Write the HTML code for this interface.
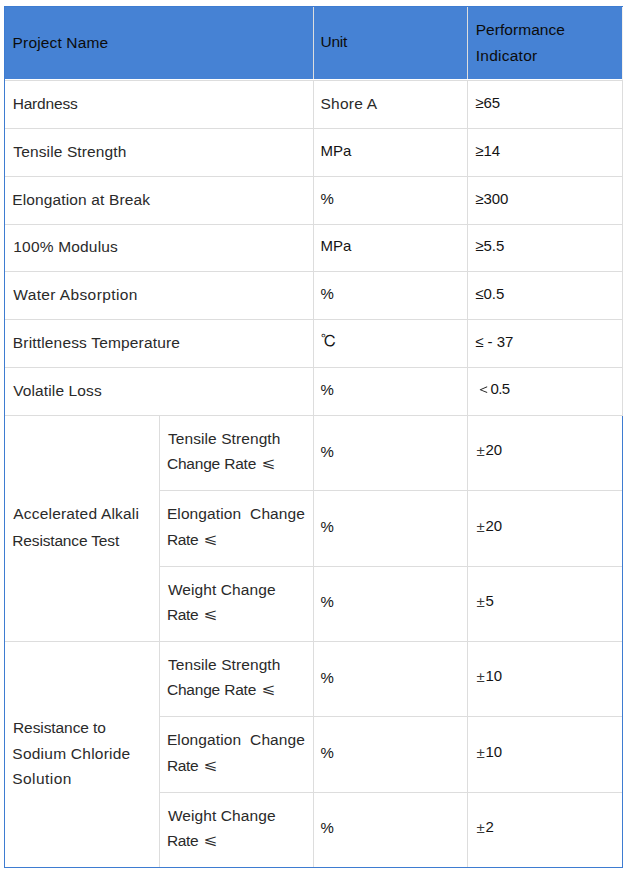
<!DOCTYPE html><html><head><meta charset="utf-8"><title>Table</title><style>
html,body{margin:0;padding:0;background:#fff}body{width:626px;height:872px;overflow:hidden;position:relative}
.l{position:absolute}

.t{position:absolute;white-space:nowrap;font-family:"Liberation Sans",sans-serif;font-size:15px;line-height:20px;color:#2a2a2a}
.t.c{font-family:"Liberation Sans","IPAGothic",sans-serif;font-size:16px}
.m{font-size:15.5px}
.t.le{font-family:"Liberation Sans","DejaVu Math TeX Gyre","DejaVu Sans",sans-serif;transform:scale(1.1,0.9);transform-origin:left bottom}
.hd{color:#0c0c0c}
.a{color:#141414}
.t.cj{font-family:"Liberation Sans","WenQuanYi Zen Hei",sans-serif}
.pm{display:inline-block;margin-right:0.7px;position:relative;top:1px;color:#3a3a3a}

</style></head><body>
<div class="l" style="left:4px;top:6px;width:618px;height:73px;background:#4682d4"></div>
<div class="l" style="left:5px;top:80px;width:618px;height:1px;background:#dddddd"></div>
<div class="l" style="left:5px;top:128px;width:618px;height:1px;background:#dddddd"></div>
<div class="l" style="left:5px;top:176px;width:618px;height:1px;background:#dddddd"></div>
<div class="l" style="left:5px;top:224px;width:618px;height:1px;background:#dddddd"></div>
<div class="l" style="left:5px;top:271px;width:618px;height:1px;background:#dddddd"></div>
<div class="l" style="left:5px;top:319px;width:618px;height:1px;background:#dddddd"></div>
<div class="l" style="left:5px;top:367px;width:618px;height:1px;background:#dddddd"></div>
<div class="l" style="left:5px;top:415px;width:618px;height:1px;background:#dddddd"></div>
<div class="l" style="left:5px;top:641px;width:618px;height:1px;background:#dddddd"></div>
<div class="l" style="left:159px;top:490px;width:464px;height:1px;background:#dddddd"></div>
<div class="l" style="left:159px;top:566px;width:464px;height:1px;background:#dddddd"></div>
<div class="l" style="left:159px;top:716px;width:464px;height:1px;background:#dddddd"></div>
<div class="l" style="left:159px;top:792px;width:464px;height:1px;background:#dddddd"></div>
<div class="l" style="left:313px;top:80px;width:1px;height:787px;background:#dddddd"></div>
<div class="l" style="left:467px;top:80px;width:1px;height:787px;background:#dddddd"></div>
<div class="l" style="left:159px;top:416px;width:1px;height:451px;background:#dddddd"></div>
<div class="l" style="left:622px;top:80px;width:1px;height:336px;background:#dddddd"></div>
<div class="l" style="left:313px;top:7px;width:1px;height:72px;background:#dedede"></div>
<div class="l" style="left:467px;top:7px;width:1px;height:72px;background:#dedede"></div>
<div class="l" style="left:622px;top:7px;width:1px;height:73px;background:#f3f0ec"></div>
<div class="l" style="left:5px;top:79px;width:617px;height:1px;background:#ffffff"></div>
<div class="l" style="left:4px;top:6px;width:619px;height:1px;background:#3e7cd1"></div>
<div class="l" style="left:4px;top:6px;width:1px;height:862px;background:#3e7cd1"></div>
<div class="l" style="left:4px;top:867px;width:619px;height:1px;background:#3e7cd1"></div>
<div class="l" style="left:622px;top:416px;width:1px;height:452px;background:#3e7cd1"></div>
<div class="t m hd" style="left:12.6px;top:32.6px;letter-spacing:0.15px">Project Name</div>
<div class="t m hd" style="left:320.6px;top:31.9px;letter-spacing:-0.30px">Unit</div>
<div class="t m hd" style="left:475.7px;top:20.0px;letter-spacing:0.05px">Performance</div>
<div class="t m hd" style="left:475.7px;top:45.8px;letter-spacing:0.26px">Indicator</div>
<div class="t m" style="left:12.7px;top:93.8px;letter-spacing:-0.19px">Hardness</div>
<div class="t m" style="left:320.4px;top:94.0px;letter-spacing:0.27px">Shore A</div>
<div class="t a" style="left:475.2px;top:92.7px">&ge;65</div>
<div class="t m" style="left:13.3px;top:142.0px;letter-spacing:0.13px">Tensile Strength</div>
<div class="t a" style="left:320.4px;top:140.9px">MPa</div>
<div class="t a" style="left:475.2px;top:140.6px">&ge;14</div>
<div class="t m" style="left:12.3px;top:190.1px;letter-spacing:0.13px">Elongation at Break</div>
<div class="t a" style="left:320.6px;top:189.0px">%</div>
<div class="t a" style="left:475.2px;top:188.8px">&ge;300</div>
<div class="t m" style="left:13.3px;top:237.1px;letter-spacing:0.18px">100% Modulus</div>
<div class="t a" style="left:320.4px;top:235.8px">MPa</div>
<div class="t a" style="left:475.2px;top:235.9px">&ge;5.5</div>
<div class="t m" style="left:13.2px;top:285.1px;letter-spacing:0.39px">Water Absorption</div>
<div class="t a" style="left:320.6px;top:283.7px">%</div>
<div class="t a" style="left:475.2px;top:284.0px">&le;0.5</div>
<div class="t m" style="left:12.8px;top:333.1px;letter-spacing:0.17px">Brittleness Temperature</div>
<div class="t a c" style="left:320.8px;top:331.8px">&#8451;</div>
<div class="t a" style="left:475.2px;top:332.0px">&le; - 37</div>
<div class="t m" style="left:13.2px;top:381.1px;letter-spacing:0.12px">Volatile Loss</div>
<div class="t a" style="left:320.6px;top:379.5px">%</div>
<div class="t a cj" style="left:476.0px;top:379.0px;letter-spacing:-0.57px">&#65308;0.5</div>
<div class="t m" style="left:13.3px;top:504.2px;letter-spacing:0.19px">Accelerated Alkali</div>
<div class="t m" style="left:12.3px;top:530.6px;letter-spacing:-0.16px">Resistance Test</div>
<div class="t m" style="left:13.0px;top:718.0px;letter-spacing:-0.08px">Resistance to</div>
<div class="t m" style="left:12.3px;top:743.9px;letter-spacing:0.24px">Sodium Chloride</div>
<div class="t m" style="left:12.3px;top:769.0px;letter-spacing:0.43px">Solution</div>
<div class="t m" style="left:167.9px;top:428.7px;letter-spacing:0.09px">Tensile Strength</div>
<div class="t m" style="left:166.9px;top:453.9px;letter-spacing:-0.19px">Change Rate</div>
<div class="t le" style="left:262.0px;top:451.9px">&#10877;</div>
<div class="t a" style="left:320.6px;top:441.9px">%</div>
<div class="t a" style="left:476.5px;top:440.1px"><span class="pm">&plusmn;</span>20</div>
<div class="t m" style="left:166.9px;top:504.2px;letter-spacing:0.11px">Elongation&nbsp; Change</div>
<div class="t m" style="left:167.0px;top:530.0px;letter-spacing:-0.37px">Rate</div>
<div class="t le" style="left:204.1px;top:528.0px">&#10877;</div>
<div class="t a" style="left:320.6px;top:517.0px">%</div>
<div class="t a" style="left:476.5px;top:515.5px"><span class="pm">&plusmn;</span>20</div>
<div class="t m" style="left:167.9px;top:579.7px;letter-spacing:0.09px">Weight Change</div>
<div class="t m" style="left:167.0px;top:605.0px;letter-spacing:-0.37px">Rate</div>
<div class="t le" style="left:204.1px;top:603.0px">&#10877;</div>
<div class="t a" style="left:320.6px;top:592.3px">%</div>
<div class="t a" style="left:476.5px;top:590.9px"><span class="pm">&plusmn;</span>5</div>
<div class="t m" style="left:167.9px;top:654.7px;letter-spacing:0.09px">Tensile Strength</div>
<div class="t m" style="left:166.9px;top:679.9px;letter-spacing:-0.19px">Change Rate</div>
<div class="t le" style="left:262.0px;top:677.9px">&#10877;</div>
<div class="t a" style="left:320.6px;top:667.9px">%</div>
<div class="t a" style="left:476.5px;top:666.1px"><span class="pm">&plusmn;</span>10</div>
<div class="t m" style="left:166.9px;top:730.2px;letter-spacing:0.11px">Elongation&nbsp; Change</div>
<div class="t m" style="left:167.0px;top:756.0px;letter-spacing:-0.37px">Rate</div>
<div class="t le" style="left:204.1px;top:754.0px">&#10877;</div>
<div class="t a" style="left:320.6px;top:743.0px">%</div>
<div class="t a" style="left:476.5px;top:741.5px"><span class="pm">&plusmn;</span>10</div>
<div class="t m" style="left:167.9px;top:805.7px;letter-spacing:0.09px">Weight Change</div>
<div class="t m" style="left:167.0px;top:831.0px;letter-spacing:-0.37px">Rate</div>
<div class="t le" style="left:204.1px;top:829.0px">&#10877;</div>
<div class="t a" style="left:320.6px;top:818.3px">%</div>
<div class="t a" style="left:476.5px;top:816.9px"><span class="pm">&plusmn;</span>2</div>
</body></html>
